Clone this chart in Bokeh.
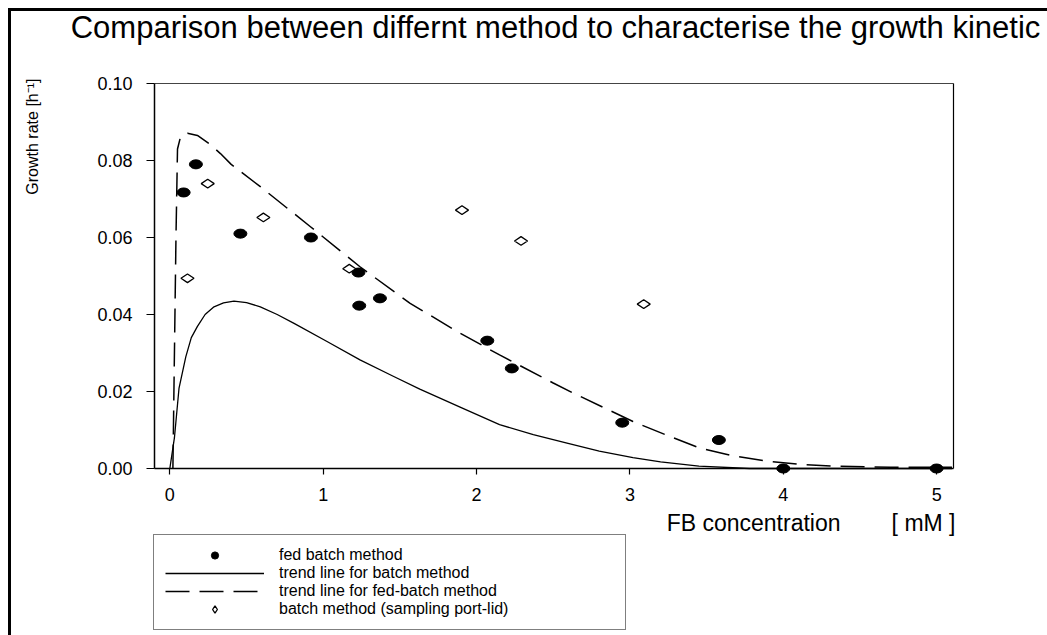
import numpy as np
from bokeh.plotting import figure
from bokeh.models import (Legend, LegendItem, Label, FixedTicker, Range1d,
                          PrintfTickFormatter, LinearAxis)
from bokeh.embed import file_html
from bokeh.resources import INLINE

# ---------------- data ----------------
title_text = "Comparison between differnt method to characterise the growth kinetic"
x_label = "FB concentration" + "\u00a0" * 8 + "[ mM ]"
y_label = "Growth rate [h\u207b\u00b9]"

x_ticks = [0, 1, 2, 3, 4, 5]
y_ticks = [0.0, 0.02, 0.04, 0.06, 0.08, 0.10]

fed_x = [0.09, 0.17, 0.46, 0.92, 1.23, 1.235, 1.37, 2.07, 2.23, 2.95, 3.58, 4.0, 5.0]
fed_y = [0.0717, 0.079, 0.061, 0.060, 0.0509, 0.0423, 0.0442, 0.0332, 0.026,
         0.0119, 0.0074, 0.0, 0.0]

batch_x = [0.115, 0.247, 0.61, 1.17, 1.905, 2.29, 3.09]
batch_y = [0.0494, 0.074, 0.0652, 0.0519, 0.0671, 0.0591, 0.0427]

trend_batch_x = [0.0, 0.03, 0.06, 0.104, 0.14, 0.18, 0.23, 0.288, 0.35, 0.418,
                 0.5, 0.59, 0.7, 0.81, 1.025, 1.24, 1.46, 1.63, 1.9, 2.15, 2.37,
                 2.59, 2.8, 3.02, 3.2, 3.45, 3.78, 4.5, 5.1]
trend_batch_y = [0.0, 0.008, 0.0209, 0.029, 0.034, 0.0369, 0.040, 0.042, 0.0430,
                 0.0435, 0.0431, 0.042, 0.040, 0.0377, 0.033, 0.0282, 0.0239,
                 0.0206, 0.0158, 0.0114, 0.0088, 0.0066, 0.0045, 0.0028, 0.0017,
                 0.0006, 0.0, 0.0, 0.0]

trend_fed_x = [0.02, 0.03, 0.04, 0.05, 0.07, 0.115, 0.18, 0.256, 0.33, 0.4, 0.59,
               0.917, 1.24, 1.567, 1.89, 2.15, 2.5, 2.63, 3.02, 3.25, 3.45, 3.67,
               3.89, 4.1, 4.32, 4.7, 5.1]
trend_fed_y = [0.0, 0.03, 0.06, 0.083, 0.0862, 0.0871, 0.0865, 0.0844, 0.0818,
               0.079, 0.0732, 0.0628, 0.0524, 0.0429, 0.0352, 0.0295, 0.0222,
               0.0196, 0.0122, 0.0085, 0.0054, 0.0033, 0.0019, 0.0011, 0.0006,
               0.0003, 0.0003]

legend_labels = ["fed batch method", "trend line for batch method",
                 "trend line for fed-batch method", "batch method (sampling port-lid)"]

FONT = "Liberation Sans"

# ---------------- layout constants (pixels) ----------------
W, H = 1047, 635
FL, FR, FT, FB = 154, 953, 83, 468      # plotting area edges in the picture
X0, X1, Y0, Y1 = -0.1, 5.11, 0.0, 0.10  # data limits of the plotting area
SX = (FR - FL) / (X1 - X0)              # px per x unit
SY = (FB - FT) / (Y1 - Y0)              # px per y unit


def px2x(px):
    return X0 + (px - FL) / SX


def py2y(py):
    return Y0 + (FB - py) / SY


# the frame spans the whole canvas; axes are pinned at the data limits
p = figure(width=W, height=H,
           x_range=Range1d(px2x(0), px2x(W)), y_range=Range1d(py2y(H), py2y(0)),
           output_backend="svg", toolbar_location=None,
           min_border=0, background_fill_color=None, border_fill_color=None,
           outline_line_color=None)
# page frame: top and left edges
p.styles = {"background": "linear-gradient(#000, #000) 8px 8px / 3px 100% no-repeat, "
                          "linear-gradient(#000, #000) 8px 8px / 100% 3px no-repeat"}
p.grid.visible = False

p.xaxis.fixed_location = Y0
p.xaxis.bounds = (X0, X1)
p.yaxis.fixed_location = X0
p.yaxis.bounds = (Y0, Y1)
p.xaxis.ticker = FixedTicker(ticks=x_ticks)
p.yaxis.ticker = FixedTicker(ticks=y_ticks)
p.yaxis.formatter = PrintfTickFormatter(format="%.2f")
for ax in (p.xaxis, p.yaxis):
    ax.axis_line_color = "black"
    ax.axis_line_width = 1.5
    ax.major_tick_line_color = "black"
    ax.major_tick_line_width = 1.2
    ax.minor_tick_line_color = None
    ax.major_tick_in = 0
    ax.major_label_text_font = FONT
    ax.major_label_text_font_size = "18px"
    ax.major_label_text_color = "black"
p.yaxis.major_tick_out = 8
p.yaxis.major_label_standoff = 14
p.xaxis.major_tick_out = 6
p.xaxis.major_label_standoff = 13

# top and right edges of the plotting area
top_ax = LinearAxis(fixed_location=Y1, bounds=(X0, X1), ticker=FixedTicker(ticks=[]),
                    axis_line_color="#444444", axis_line_width=1,
                    minor_tick_line_color=None, major_tick_line_color=None)
right_ax = LinearAxis(fixed_location=X1, bounds=(Y0, Y1), ticker=FixedTicker(ticks=[]),
                      axis_line_color="black", axis_line_width=1.2,
                      minor_tick_line_color=None, major_tick_line_color=None)
p.add_layout(top_ax, "above")
p.add_layout(right_ax, "right")

# data renderers
r_batch_line = p.line(trend_batch_x, trend_batch_y, line_color="black", line_width=1.3)
r_fed_line = p.line(trend_fed_x, trend_fed_y, line_color="black", line_width=1.5,
                    line_dash="24 10")
p.ellipse(fed_x, fed_y, width=13, height=9, width_units="screen",
          height_units="screen", fill_color="black", line_color="black")
r_fed = p.scatter(fed_x, fed_y, marker="circle", size=8, fill_color="black",
                  line_color="black")
r_batch = p.scatter(batch_x, batch_y, marker="diamond", size=13, angle=np.pi / 2,
                    fill_color="white", line_color="black", line_width=1.3)

# texts
p.add_layout(Label(x=px2x(555), y=py2y(27), text=title_text, text_align="center",
                   text_baseline="middle", text_font=FONT, text_font_size="31px",
                   text_color="black"))
p.add_layout(Label(x=px2x(32), y=py2y(78), text=y_label, angle=np.pi / 2,
                   text_align="right", text_baseline="middle", text_font=FONT,
                   text_font_size="16px", text_color="black"))
p.add_layout(Label(x=px2x(955), y=py2y(522), text=x_label, text_align="right",
                   text_baseline="middle", text_font=FONT, text_font_size="23px",
                   text_color="black"))

legend = Legend(items=[
    LegendItem(label=legend_labels[0], renderers=[r_fed]),
    LegendItem(label=legend_labels[1], renderers=[r_batch_line]),
    LegendItem(label=legend_labels[2], renderers=[r_fed_line]),
    LegendItem(label=legend_labels[3], renderers=[r_batch]),
], location=(153, H - 630))
legend.margin = 0
legend.padding = 11
legend.spacing = 0
legend.glyph_width = 99
legend.glyph_height = 18
legend.label_height = 18
legend.label_width = 335
legend.label_standoff = 15
legend.label_text_font = FONT
legend.label_text_font_size = "16px"
legend.label_text_color = "black"
legend.label_text_baseline = "middle"
legend.border_line_color = "black"
legend.border_line_width = 1
legend.background_fill_color = "white"
legend.background_fill_alpha = 1
p.add_layout(legend)

open("out.html", "w").write(file_html(p, INLINE))
